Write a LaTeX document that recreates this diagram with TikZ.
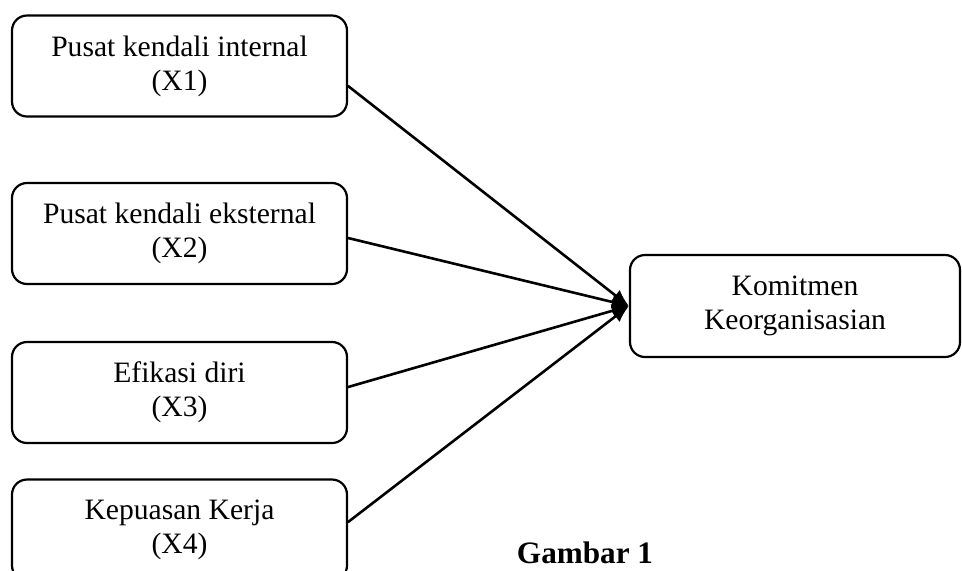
\documentclass[tikz,border=0pt]{standalone}
\usepackage{fontspec}
\setmainfont{Liberation Serif}
\usetikzlibrary{arrows.meta}

\begin{document}
\begin{tikzpicture}
  [
    x=.5pt, y=-.5pt,
    line cap=round, line join=round,
    var/.style={draw, line width=1.1pt, rounded corners=7.5pt, align=center,
      minimum width=167.5pt, minimum height=50.5pt, inner sep=0pt,
      font=\fontsize{14.8}{17}\selectfont},
    conn/.style={line width=1.3pt, -{Latex[length=8.5pt,width=7pt]}},
  ]

\clip (0,0) rectangle (962,570);

% left column
\newcommand\varBox[3]{
  \node[var] (#1) at (179.5,#2) {#3};
}
\varBox{xa}{66}{Pusat kendali internal\\(X1)}
\varBox{xb}{233.5}{Pusat kendali eksternal\\(X2)}
\varBox{xc}{392.5}{Efikasi diri\\(X3)}
\varBox{xd}{530}{Kepuasan Kerja\\(X4)}

% right
\node[var, minimum width=165pt, minimum height=51pt] (ky) at (795,306)
  {Komitmen\\Keorganisasian};

\draw[conn] ([yshift=-10pt]xa.east) -- (ky.west);
\draw[conn] ([yshift=-2.25pt]xb.east) -- (ky.west);
\draw[conn] ([yshift=2.75pt]xc.east) -- (ky.west);
\draw[conn] ([yshift=4pt]xd.east) -- (ky.west);

\node[font=\fontsize{15.6}{18}\selectfont\bfseries] (cap) at (585,553) {Gambar 1};

\end{tikzpicture}
\end{document}
